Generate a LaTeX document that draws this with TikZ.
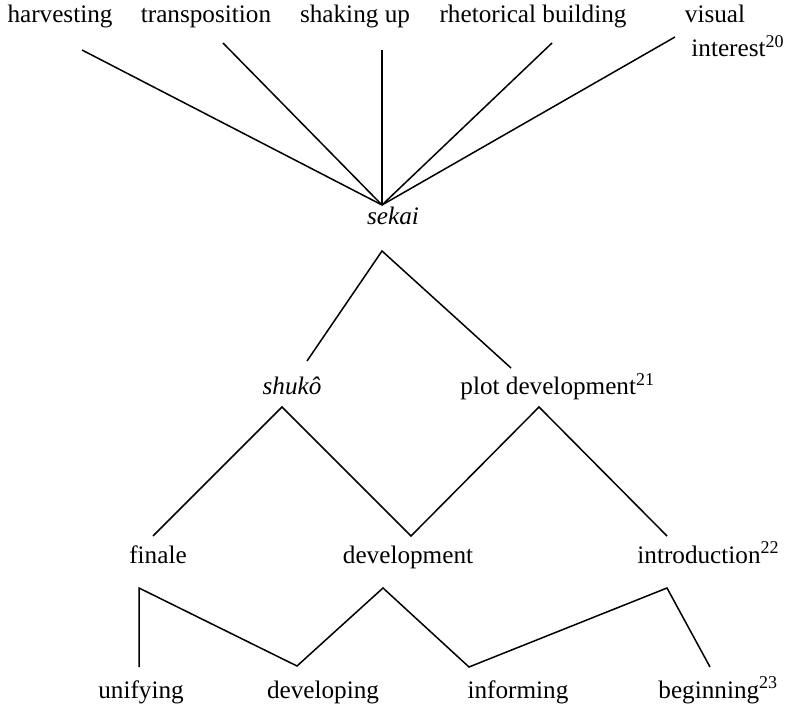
\documentclass[tikz,border=0pt]{standalone}
\usepackage{fontspec}
\setmainfont{Liberation Serif}
\usetikzlibrary{positioning}
\newcommand{\notenum}[1]{\raisebox{0.85ex}{\fontsize{9}{10}\selectfont #1}}
\tikzset{
  term/.style={inner sep=0pt, anchor=base, font=\fontsize{12.6}{15}\selectfont},
  noted/.style={term, anchor=base west},
  link/.style={line width=0.75pt, line join=miter}
}

\begin{document}
\begin{tikzpicture}[x=0.5pt, y=-0.5pt]
  \useasboundingbox (0,0) rectangle (787,705);

  % Top row
  \node[term] (harvesting) at (60,23) {harvesting};
  \node[term] (transposition) at (206,23) {transposition};
  \node[term] (shaking) at (355,23) {shaking up};
  \node[term] (rhetorical) at (533,23) {rhetorical building};
  \node[term] (visual) at (715,23) {visual};
  \node[noted] (interest) at (691,57) {interest\notenum{20}};

  % Middle rows
  \node[term] (sekai) at (393,225) {\textit{sekai}};
  \node[term] (shuko) at (292,395) {\textit{shukô}};
  \node[noted] (plot) at (460,395) {plot development\notenum{21}};
  \node[term] (finale) at (158,563) {finale};
  \node[term] (devel) at (408,563) {development};
  \node[noted] (intro) at (637,563) {introduction\notenum{22}};

  % Bottom row
  \node[term] (unifying) at (141,698) {unifying};
  \node[term] (developing) at (323,698) {developing};
  \node[term] (informing) at (518,698) {informing};
  \node[noted] (beginning) at (658,698) {beginning\notenum{23}};

  % Line ends
  \coordinate (harvesting-foot) at (82,50);
  \coordinate (transposition-foot) at (223,43);
  \coordinate (shaking-foot) at (382,50);
  \coordinate (rhetorical-foot) at (552,43);
  \coordinate (visual-foot) at (675,37);
  \coordinate (sekai-up) at (382,205);
  \coordinate (sekai-down) at (382,251);
  \coordinate (shuko-up) at (307,361);
  \coordinate (plot-up) at (511,368);
  \coordinate (shuko-down) at (282,407);
  \coordinate (plot-down) at (539,407);
  \coordinate (finale-up) at (153,536);
  \coordinate (devel-up) at (411,536);
  \coordinate (intro-up) at (667,536);
  \coordinate (finale-down) at (139,588);
  \coordinate (devel-down) at (383,588);
  \coordinate (intro-down) at (667,588);
  \coordinate (unifying-up) at (139,667);
  \coordinate (developing-up) at (297,666);
  \coordinate (informing-up) at (469,667);
  \coordinate (beginning-up) at (710,667);

  % Lines
  \foreach \t in {harvesting,transposition,shaking,rhetorical,visual}
    \draw[link] (\t-foot) -- (sekai-up);
  \draw[link] (shuko-up) -- (sekai-down) -- (plot-up);
  \draw[link] (finale-up) -- (shuko-down) -- (devel-up) -- (plot-down) -- (intro-up);
  \draw[link] (unifying-up) -- (finale-down) -- (developing-up) -- (devel-down)
    -- (informing-up) -- (intro-down) -- (beginning-up);
\end{tikzpicture}
\end{document}
